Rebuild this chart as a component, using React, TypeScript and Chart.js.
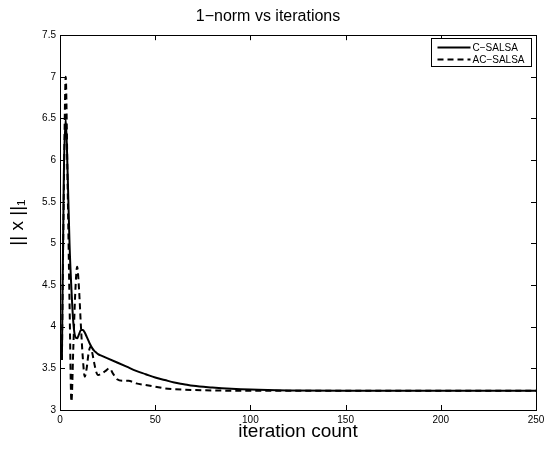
import React, { useEffect, useRef } from "react";
import { Chart, registerables } from "chart.js";

Chart.register(...registerables);

const titleText = "1−norm vs iterations";
const xAxisTitle = "iteration count";
const yAxisTitle = "|| x ||₁";
const seriesLabels = ["C−SALSA", "AC−SALSA"];

const xTicks = [0, 50, 100, 150, 200, 250];
const yTicks = [3, 3.5, 4, 4.5, 5, 5.5, 6, 6.5, 7, 7.5];

const cIter = [1, 2, 3, 4, 5, 6, 7, 8, 9, 10, 11, 12, 13, 14, 15, 16, 17, 18, 19, 20, 22, 25, 30, 35, 40, 45, 50, 55, 60, 65, 70, 80, 90, 100, 120, 150, 200, 250];
const cValues = [3.6, 5.8, 6.5, 5.85, 5.0, 4.45, 4.05, 3.88, 3.86, 3.91, 3.96, 3.96, 3.93, 3.88, 3.83, 3.78, 3.74, 3.71, 3.69, 3.67, 3.65, 3.62, 3.57, 3.52, 3.47, 3.43, 3.39, 3.36, 3.33, 3.31, 3.29, 3.27, 3.255, 3.245, 3.235, 3.23, 3.23, 3.23];

const acIter = [1, 2, 3, 4, 5, 6, 7, 8, 9, 10, 11, 12, 13, 14, 15, 16, 17, 18, 19, 20, 22, 24, 26, 28, 30, 33, 36, 40, 45, 50, 55, 60, 70, 80, 100, 150, 250];
const acValues = [3.6, 5.6, 7.0, 5.7, 4.3, 3.1, 3.75, 4.4, 4.72, 4.45, 4.0, 3.62, 3.4, 3.5, 3.68, 3.76, 3.68, 3.56, 3.46, 3.42, 3.44, 3.47, 3.5, 3.43, 3.37, 3.35, 3.35, 3.32, 3.3, 3.28, 3.26, 3.25, 3.24, 3.235, 3.23, 3.23, 3.23];

const FONT = "'Liberation Sans', Helvetica, Arial, sans-serif";

const framePlugin = {
  id: "matlabFrame",
  afterDatasetsDraw(chart: any) {
    const { ctx, chartArea, scales } = chart;
    const { left, right, top, bottom } = chartArea;
    const x = scales.x;
    const y = scales.y;
    ctx.save();
    ctx.strokeStyle = "#000";
    ctx.lineWidth = 1;
    ctx.beginPath();
    for (const t of xTicks) {
      const px = Math.round(x.getPixelForValue(t)) + 0.5;
      ctx.moveTo(px, bottom);
      ctx.lineTo(px, bottom - 5);
      ctx.moveTo(px, top);
      ctx.lineTo(px, top + 5);
    }
    for (const t of yTicks) {
      const py = Math.round(y.getPixelForValue(t)) + 0.5;
      ctx.moveTo(left, py);
      ctx.lineTo(left + 5, py);
      ctx.moveTo(right, py);
      ctx.lineTo(right - 5, py);
    }
    ctx.stroke();
    ctx.strokeRect(Math.round(left) + 0.5, Math.round(top) + 0.5, Math.round(right - left), Math.round(bottom - top));

    // legend box (top-right, inside axes)
    const bw = 100;
    const bh = 28;
    const bx = Math.round(right) - 5 - bw + 0.5;
    const by = Math.round(top) + 3 + 0.5;
    ctx.fillStyle = "#fff";
    ctx.fillRect(bx, by, bw, bh);
    ctx.strokeRect(bx, by, bw, bh);
    ctx.font = `10px ${FONT}`;
    ctx.textBaseline = "middle";
    ctx.textAlign = "left";
    chart.data.datasets.forEach((ds: any, i: number) => {
      const ry = by + 9 + i * 12;
      ctx.beginPath();
      ctx.lineWidth = 2;
      ctx.setLineDash(ds.borderDash || []);
      ctx.moveTo(bx + 6, ry);
      ctx.lineTo(bx + 39, ry);
      ctx.stroke();
      ctx.setLineDash([]);
      ctx.fillStyle = "#000";
      ctx.fillText(ds.label, bx + 41, ry + 0.5);
    });
    ctx.restore();
  },
};

export default function App() {
  const canvasRef = useRef<HTMLCanvasElement | null>(null);

  useEffect(() => {
    const canvas = canvasRef.current;
    if (!canvas) return;
    const chart = new Chart(canvas, {
      type: "line",
      data: {
        datasets: [
          {
            label: seriesLabels[0],
            data: cIter.map((v, i) => ({ x: v, y: cValues[i] })),
            borderColor: "#000",
            borderWidth: 2,
            pointRadius: 0,
            fill: false,
            cubicInterpolationMode: "monotone",
          },
          {
            label: seriesLabels[1],
            data: acIter.map((v, i) => ({ x: v, y: acValues[i] })),
            borderColor: "#000",
            borderWidth: 2,
            borderDash: [6, 4],
            pointRadius: 0,
            fill: false,
            cubicInterpolationMode: "monotone",
          },
        ],
      },
      options: {
        animation: false,
        responsive: false,
        devicePixelRatio: 1,
        layout: { padding: { left: 0, right: 8, top: 0, bottom: 0 } },
        plugins: {
          legend: { display: false },
          tooltip: { enabled: false },
          title: {
            display: true,
            text: titleText,
            color: "#000",
            font: { family: FONT, size: 16, weight: "normal" },
            padding: { top: 7, bottom: 9 },
          },
        },
        scales: {
          x: {
            type: "linear",
            min: 0,
            max: 250,
            grid: { display: false, drawTicks: false },
            border: { display: false },
            ticks: {
              stepSize: 50,
              autoSkip: false,
              maxRotation: 0,
              color: "#000",
              padding: 4,
              font: { family: FONT, size: 10 },
            },
            title: {
              display: true,
              text: xAxisTitle,
              color: "#000",
              font: { family: FONT, size: 19 },
              padding: { top: 0, bottom: 6 },
            },
            afterFit: (s: any) => {
              s.height = 39;
              s.paddingLeft = 0;
              s.paddingRight = 0;
            },
          },
          y: {
            type: "linear",
            min: 3,
            max: 7.5,
            grid: { display: false, drawTicks: false },
            border: { display: false },
            ticks: {
              stepSize: 0.5,
              autoSkip: false,
              color: "#000",
              padding: 4,
              font: { family: FONT, size: 10 },
              callback: (v: any) => String(Number(v)),
            },
            title: {
              display: true,
              text: yAxisTitle,
              color: "#000",
              font: { family: FONT, size: 19 },
              padding: { top: 6, bottom: 0 },
            },
            afterFit: (s: any) => {
              s.width = 60;
              s.paddingTop = 0;
              s.paddingBottom = 0;
            },
          },
        },
      },
      plugins: [framePlugin],
    });
    return () => chart.destroy();
  }, []);

  return (
    <div style={{ position: "absolute", left: 0, top: 0, width: 544, height: 449, background: "#fff" }}>
      <canvas ref={canvasRef} width={544} height={449} style={{ display: "block" }} />
    </div>
  );
}
